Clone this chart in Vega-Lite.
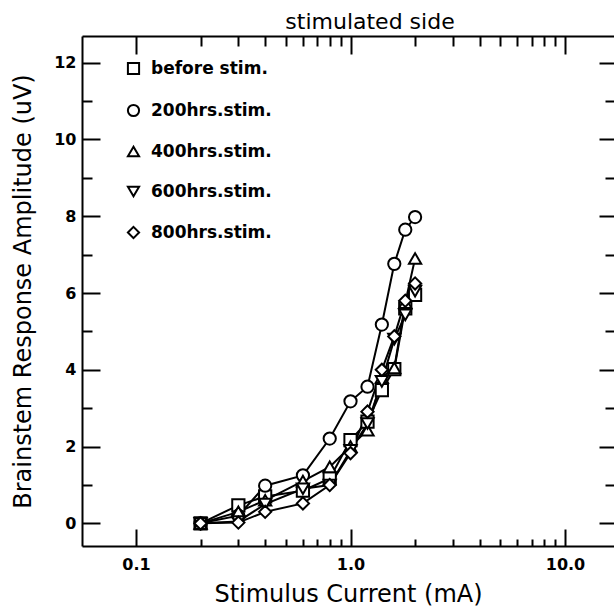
{
  "$schema": "https://vega.github.io/schema/vega-lite/v6.json",
  "width": 532,
  "height": 510,
  "autosize": {"type": "none"},
  "padding": {"left": 82, "top": 36, "right": 0, "bottom": 60},
  "background": "white",
  "title": {"text": "stimulated side", "font": "DejaVu Sans", "fontSize": 22, "fontWeight": "normal", "color": "black", "dx": 22, "offset": 1},
  "config": {
    "view": {"stroke": null},
    "axis": {
      "grid": false,
      "domainColor": "black", "domainWidth": 2,
      "tickColor": "black", "tickWidth": 2,
      "labelColor": "black", "titleColor": "black",
      "labelFont": "DejaVu Sans", "labelFontWeight": "bold", "labelFontSize": 16,
      "titleFont": "DejaVu Sans", "titleFontWeight": "normal", "titleFontSize": 24,
      "labelOverlap": false, "labelFlush": false
    }
  },
  "data": {"values": [
    {"series": "before stim.", "current": 0.2, "amplitude": 0},
    {"series": "before stim.", "current": 0.3, "amplitude": 0.47},
    {"series": "before stim.", "current": 0.4, "amplitude": 0.7},
    {"series": "before stim.", "current": 0.6, "amplitude": 0.85},
    {"series": "before stim.", "current": 0.8, "amplitude": 1.17},
    {"series": "before stim.", "current": 1.0, "amplitude": 2.17},
    {"series": "before stim.", "current": 1.2, "amplitude": 2.65},
    {"series": "before stim.", "current": 1.4, "amplitude": 3.47},
    {"series": "before stim.", "current": 1.6, "amplitude": 4.02},
    {"series": "before stim.", "current": 1.8, "amplitude": 5.6},
    {"series": "before stim.", "current": 2.0, "amplitude": 5.95},
    {"series": "200hrs.stim.", "current": 0.2, "amplitude": 0},
    {"series": "200hrs.stim.", "current": 0.3, "amplitude": 0.2},
    {"series": "200hrs.stim.", "current": 0.4, "amplitude": 0.98},
    {"series": "200hrs.stim.", "current": 0.6, "amplitude": 1.25},
    {"series": "200hrs.stim.", "current": 0.8, "amplitude": 2.21},
    {"series": "200hrs.stim.", "current": 1.0, "amplitude": 3.18},
    {"series": "200hrs.stim.", "current": 1.2, "amplitude": 3.56},
    {"series": "200hrs.stim.", "current": 1.4, "amplitude": 5.18},
    {"series": "200hrs.stim.", "current": 1.6, "amplitude": 6.76},
    {"series": "200hrs.stim.", "current": 1.8, "amplitude": 7.65},
    {"series": "200hrs.stim.", "current": 2.0, "amplitude": 7.98},
    {"series": "400hrs.stim.", "current": 0.2, "amplitude": 0},
    {"series": "400hrs.stim.", "current": 0.3, "amplitude": 0.3},
    {"series": "400hrs.stim.", "current": 0.4, "amplitude": 0.6},
    {"series": "400hrs.stim.", "current": 0.6, "amplitude": 1.1},
    {"series": "400hrs.stim.", "current": 0.8, "amplitude": 1.47},
    {"series": "400hrs.stim.", "current": 1.0, "amplitude": 2.0},
    {"series": "400hrs.stim.", "current": 1.2, "amplitude": 2.43},
    {"series": "400hrs.stim.", "current": 1.4, "amplitude": 3.8},
    {"series": "400hrs.stim.", "current": 1.6, "amplitude": 4.05},
    {"series": "400hrs.stim.", "current": 1.8, "amplitude": 5.75},
    {"series": "400hrs.stim.", "current": 2.0, "amplitude": 6.9},
    {"series": "600hrs.stim.", "current": 0.2, "amplitude": 0},
    {"series": "600hrs.stim.", "current": 0.3, "amplitude": 0.05},
    {"series": "600hrs.stim.", "current": 0.4, "amplitude": 0.5},
    {"series": "600hrs.stim.", "current": 0.6, "amplitude": 0.9},
    {"series": "600hrs.stim.", "current": 0.8, "amplitude": 1.0},
    {"series": "600hrs.stim.", "current": 1.0, "amplitude": 1.9},
    {"series": "600hrs.stim.", "current": 1.2, "amplitude": 2.6},
    {"series": "600hrs.stim.", "current": 1.4, "amplitude": 3.7},
    {"series": "600hrs.stim.", "current": 1.6, "amplitude": 4.8},
    {"series": "600hrs.stim.", "current": 1.8, "amplitude": 5.43},
    {"series": "600hrs.stim.", "current": 2.0, "amplitude": 6.05},
    {"series": "800hrs.stim.", "current": 0.2, "amplitude": 0},
    {"series": "800hrs.stim.", "current": 0.3, "amplitude": 0.02},
    {"series": "800hrs.stim.", "current": 0.4, "amplitude": 0.3},
    {"series": "800hrs.stim.", "current": 0.6, "amplitude": 0.52},
    {"series": "800hrs.stim.", "current": 0.8, "amplitude": 1.0},
    {"series": "800hrs.stim.", "current": 1.0, "amplitude": 1.83},
    {"series": "800hrs.stim.", "current": 1.2, "amplitude": 2.91},
    {"series": "800hrs.stim.", "current": 1.4, "amplitude": 4.0},
    {"series": "800hrs.stim.", "current": 1.6, "amplitude": 4.87},
    {"series": "800hrs.stim.", "current": 1.8, "amplitude": 5.8},
    {"series": "800hrs.stim.", "current": 2.0, "amplitude": 6.25}
  ]},
  "layer": [
    {
      "mark": {"type": "line", "color": "black", "strokeWidth": 2},
      "encoding": {
        "detail": {"field": "series"},
        "x": {"field": "current", "type": "quantitative",
          "scale": {"type": "log", "domain": [0.056, 16.92], "nice": false},
          "axis": {"orient": "bottom", "title": "Stimulus Current (mA)",
            "values": [0.1, 0.2, 0.3, 0.4, 0.5, 0.6, 0.7, 0.8, 0.9, 1, 2, 3, 4, 5, 6, 7, 8, 9, 10],
            "format": ".1f",
            "labelExpr": "datum.value == 0.1 || datum.value == 1 || datum.value == 10 ? datum.label : ''",
            "tickSize": -17,
            "tickDash": {"condition": {"test": "datum.value == 0.1 || datum.value == 1 || datum.value == 10", "value": [17, 0]}, "value": [7, 40]},
            "labelPadding": 27, "titlePadding": 10}},
        "y": {"field": "amplitude", "type": "quantitative",
          "scale": {"domain": [-0.59, 12.696], "nice": false, "zero": false},
          "axis": {"orient": "left", "title": "Brainstem Response Amplitude (uV)",
            "values": [0, 1, 2, 3, 4, 5, 6, 7, 8, 9, 10, 11, 12],
            "labelExpr": "datum.value % 2 == 0 ? datum.label : ''",
            "tickSize": -18,
            "tickDash": {"condition": {"test": "datum.value % 2 == 0", "value": [18, 0]}, "value": [10, 40]},
            "labelPadding": 24, "titlePadding": 18, "titleFontSize": 24}}
      }
    },
    {
      "mark": {"type": "point", "filled": false, "fill": "white", "fillOpacity": 1, "stroke": "black", "strokeWidth": 2, "size": 150, "opacity": 1},
      "encoding": {
        "shape": {"field": "series", "type": "nominal",
          "scale": {"domain": ["before stim.", "200hrs.stim.", "400hrs.stim.", "600hrs.stim.", "800hrs.stim."],
                    "range": ["square", "circle", "triangle-up", "triangle-down", "diamond"]},
          "legend": {"orient": "none", "legendX": 43, "legendY": 24, "title": null,
            "labelFont": "DejaVu Sans", "labelFontWeight": "bold", "labelFontSize": 17, "labelColor": "black",
            "rowPadding": 21, "symbolSize": 125, "symbolStrokeWidth": 2, "labelOffset": 9}},
        "x": {"field": "current", "type": "quantitative",
          "scale": {"type": "log", "domain": [0.056, 16.92], "nice": false},
          "axis": {"orient": "top", "title": null, "labels": false,
            "values": [0.1, 0.2, 0.3, 0.4, 0.5, 0.6, 0.7, 0.8, 0.9, 1, 2, 3, 4, 5, 6, 7, 8, 9, 10],
            "tickSize": -18,
            "tickDash": {"condition": {"test": "datum.value == 0.1 || datum.value == 1 || datum.value == 10", "value": [18, 0]}, "value": [10, 40]}}},
        "y": {"field": "amplitude", "type": "quantitative",
          "scale": {"domain": [-0.59, 12.696], "nice": false, "zero": false},
          "axis": {"orient": "right", "title": null, "labels": false, "domain": false,
            "values": [0, 1, 2, 3, 4, 5, 6, 7, 8, 9, 10, 11, 12],
            "tickSize": -15,
            "tickDash": {"condition": {"test": "datum.value % 2 == 0", "value": [15, 0]}, "value": [9, 40]}}}
      }
    }
  ],
  "resolve": {"axis": {"x": "independent", "y": "independent"}}
}
